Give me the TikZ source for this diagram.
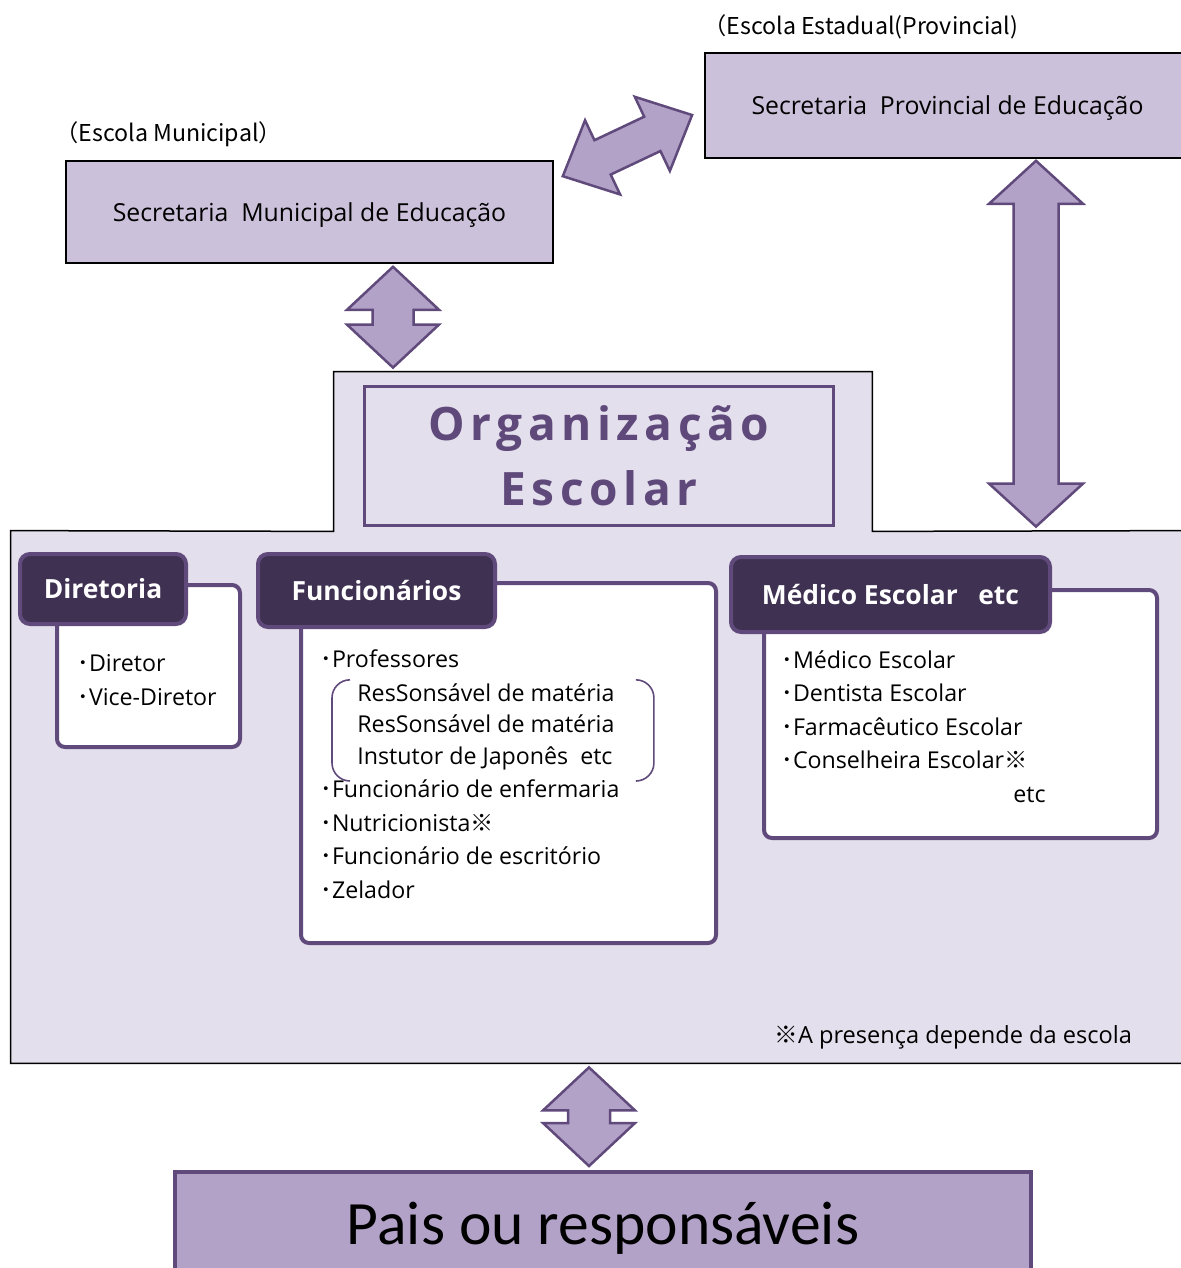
\documentclass[tikz,border=0pt]{standalone}
\usepackage{fontspec}
\setmainfont{Open Sans}
\newfontfamily\jpfont{Noto Sans CJK JP}
\newfontfamily\paisfont{Carlito}
\newfontfamily\titfont[LetterSpace=12]{Open Sans}
\usetikzlibrary{calc,positioning}

\definecolor{lilasCaixa}{HTML}{CCC1DA}
\definecolor{lilasFundo}{HTML}{E4DFEC}
\definecolor{lilasSeta}{HTML}{B3A2C7}
\definecolor{roxoBorda}{HTML}{604A7B}
\definecolor{roxoAba}{HTML}{3F3151}
\definecolor{roxoTexto}{HTML}{5F497A}

\newcommand{\marca}{{\jpfont ※}}
\newcommand{\pto}{{\jpfont ･}}

% seta dupla em bloco: {inicio}{fim}{meia haste}{meia cabeca}{comprimento da cabeca}
\newcommand{\duplaseta}[5]{%
  \draw[setabloco] let \p1=#1, \p2=#2,
      \n1={atan2(\y2-\y1,\x2-\x1)}, \n2={veclen(\x2-\x1,\y2-\y1)} in
    [shift={(\p1)}, rotate=\n1]
    (0pt,0pt) -- (#5,#4) -- (#5,#3) -- (\n2-#5,#3) -- (\n2-#5,#4) -- (\n2,0pt)
    -- (\n2-#5,-#4) -- (\n2-#5,-#3) -- (#5,-#3) -- (#5,-#4) -- cycle;}

\begin{document}
\begin{tikzpicture}[
    x=0.5pt, y=-0.5pt,
    secretaria/.style={draw=black, line width=0.8pt, fill=lilasCaixa,
                       text height=0.92em, text depth=0pt,
                       font=\fontsize{12.4}{14}\selectfont},
    rotulo/.style={anchor=west, inner sep=0pt, font=\jpfont\fontsize{11.6}{13}\selectfont},
    aba/.style={draw=roxoBorda, line width=2pt, fill=roxoAba, rounded corners=5pt,
                text=white, font=\fontsize{13.2}{15}\selectfont\bfseries},
    cartao/.style={draw=roxoBorda, line width=2pt, fill=white, rounded corners=4pt},
    % ancora base = linha de base da ultima linha
    lista/.style={anchor=base west, align=left, inner sep=0pt,
                  font=\fontsize{11.6}{16.75}\selectfont},
    colchete/.style={draw=roxoBorda, line width=0.8pt, rounded corners=9pt},
    setabloco/.style={draw=roxoBorda, fill=lilasSeta, line width=1.25pt}
  ]
    \useasboundingbox (0,0) rectangle (1181,1268);

    % Secretarias
    \node[rotulo] (rotprov) at (703,27) {（Escola Estadual(Provincial)};
    \node[secretaria, minimum width=242.5pt, minimum height=52.5pt] (prov) at (947.5,105.5)
        {Secretaria\ \ Provincial de Educação};
    \node[rotulo] (rotmuni) at (55,134) {（Escola Municipal）};
    \node[secretaria, minimum width=243.5pt, minimum height=51pt] (muni) at (309.5,212)
        {Secretaria\ \ Municipal de Educação};

    % Organizacao escolar (fundo em forma de T invertido)
    \node[minimum width=269pt, minimum height=79.5pt] (orgtopo) at (603,451.5) {};
    \node[minimum width=587.5pt, minimum height=266pt] (orgbase) at (598.5,797) {};
    \draw[line width=0.75pt, fill=lilasFundo]
        (orgbase.north west) -- (orgtopo.south west) -- (orgtopo.north west)
        -- (orgtopo.north east) -- (orgtopo.south east) -- (orgbase.north east)
        -- (orgbase.south east) -- (orgbase.south west) -- cycle;
    \node[draw=roxoBorda, line width=1.5pt, minimum width=234.5pt, minimum height=69.5pt,
          align=center, text=roxoTexto,
          font=\titfont\bfseries\fontsize{23}{32.5}\selectfont] (titulo) at (599,456)
        {Organização\\Escolar};

    % Diretoria
    \node[cartao, minimum width=91.5pt, minimum height=81pt] (dircorpo) at (148.5,666) {};
    \node[aba, minimum width=83pt, minimum height=35pt] (diraba) at (103,589) {Diretoria};
    \node[lista] (dirlista) at (77,705) {\pto Diretor\\\pto Vice-Diretor};

    % Funcionarios
    \node[cartao, minimum width=207.5pt, minimum height=180pt] (funccorpo) at (508.5,763) {};
    \node[aba, minimum width=118.5pt, minimum height=36.5pt] (funcaba) at (376.5,590.5) {Funcionários};
    \node[lista] (prof) at (320,667) {\pto Professores};
    \node[lista, font=\fontsize{11.6}{15.75}\selectfont] (resp) at (357,764)
        {ResSonsável de matéria\\ResSonsável de matéria\\Instutor de Japonês\ \ etc};
    \draw[colchete] ($(resp.north west)+(-7,-3)$) -| ($(resp.west)+(-25,0)$)
        |- ($(resp.south west)+(-7,11)$);
    \draw[colchete] ($(resp.north east)+(22,-3)$) -| ($(resp.east)+(39,0)$)
        |- ($(resp.south east)+(22,11)$);
    \node[lista] (funclista) at (320,898)
        {\pto Funcionário de enfermaria\\\pto Nutricionista\marca\\
         \pto Funcionário de escritório\\\pto Zelador};

    % Medico escolar
    \node[cartao, minimum width=196.5pt, minimum height=124pt] (medcorpo) at (960.5,714) {};
    \node[aba, minimum width=159.5pt, minimum height=37.5pt] (medaba) at (890.5,594.5)
        {Médico Escolar \ \ etc};
    \node[lista] (medlista) at (781,802)
        {\pto Médico Escolar\\\pto Dentista Escolar\\\pto Farmacêutico Escolar\\
         \pto Conselheira Escolar\marca\\\hspace*{116pt}etc};

    \node[font=\fontsize{11.8}{13}\selectfont, anchor=west, inner sep=0pt] (nota) at (774,1037)
        {\marca A presença depende da escola};

    % Pais
    \node[draw=roxoBorda, line width=2pt, fill=lilasSeta, minimum width=428pt, minimum height=56pt,
          font=\paisfont\fontsize{30.8}{36}\selectfont] (pais) at (603,1228) {Pais ou responsáveis};

    % Setas duplas entre as caixas
    \coordinate (s1a) at ($(muni.south)+(83.5,3)$);
    \coordinate (s1b) at ($(s1a |- orgtopo.north)+(0,-4)$);
    \coordinate (s2a) at ($(prov.south)+(88.5,2)$);
    \coordinate (s2b) at ($(s2a |- orgbase.north)+(0,-4)$);
    \coordinate (s3a) at ($(muni.north east)+(9,16)$);
    \coordinate (s3b) at ($(prov.west)+(-12,9.5)$);
    \coordinate (s4a) at ($(pais.north)+(-14,-4)$);
    \coordinate (s4b) at ($(s4a |- orgbase.south)+(0,4)$);
    \duplaseta{(s1a)}{(s1b)}{10.25pt}{23pt}{21.5pt}
    \duplaseta{(s2a)}{(s2b)}{11.25pt}{23.5pt}{21.5pt}
    \duplaseta{(s3a)}{(s3b)}{9.5pt}{20.5pt}{22pt}
    \duplaseta{(s4a)}{(s4b)}{10.5pt}{23pt}{21.5pt}
\end{tikzpicture}
\end{document}
